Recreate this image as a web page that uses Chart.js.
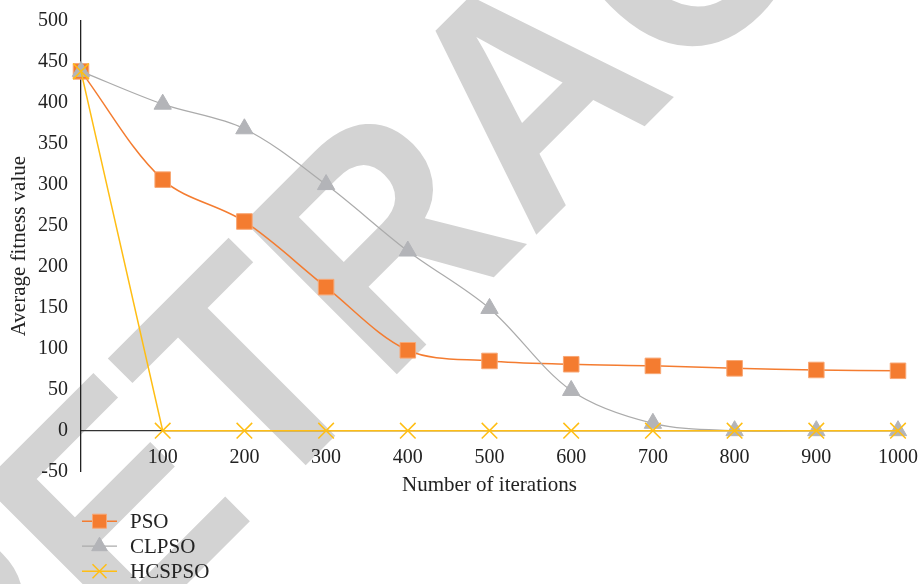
<!DOCTYPE html>
<html>
<head>
<meta charset="utf-8">
<title>Average fitness value vs. number of iterations</title>
<script src="https://cdn.jsdelivr.net/npm/chart.js@4/dist/chart.umd.min.js"></script>
<style>
  html, body { margin: 0; padding: 0; background: #ffffff; }
  #wrap { width: 923px; height: 584px; }
</style>
</head>
<body>
<div id="wrap"><canvas id="chart" width="923" height="584"></canvas></div>
<script>
// Iteration counts on the horizontal axis
const iterations = [0, 100, 200, 300, 400, 500, 600, 700, 800, 900, 1000];

// Average fitness value of each algorithm
const psoValues    = [438, 306, 255, 175, 98, 85, 81, 79, 76, 74, 73];
const clpsoValues  = [438, 398, 368, 300, 219, 149, 49, 9, 0, 0, 0];
const hcspsoValues = [438, 0, 0, 0, 0, 0, 0, 0, 0, 0, 0];

const seriesNames = ['PSO', 'CLPSO', 'HCSPSO'];

// Axis ranges and tick steps
const xRange = [0, 1000];
const xStep = 100;
const yRange = [-50, 500];
const yStep = 50;

const axisTitles = { x: 'Number of iterations', y: 'Average fitness value' };
const stampText = 'RETRACTED';

const serif = '"Liberation Serif", "Times New Roman", serif';
const textColor = '#222222';

function points(values) {
  return iterations.map((x, i) => ({ x: x, y: values[i] }));
}

// Diagonal grey stamp behind the plot
const stampPlugin = {
  id: 'stamp',
  beforeDraw(chart) {
    const ctx = chart.ctx;
    ctx.save();
    ctx.fillStyle = '#ffffff';
    ctx.fillRect(0, 0, chart.width, chart.height);
    ctx.translate(-27, 798);
    ctx.rotate(-Math.PI / 4);
    ctx.scale(1, 1.08);
    ctx.font = 'bold 290px "Liberation Sans", Arial, sans-serif';
    ctx.fillStyle = '#d3d3d3';
    ctx.textBaseline = 'alphabetic';
    ctx.textAlign = 'left';
    ctx.fillText(stampText, 0, 0);
    ctx.restore();
  }
};

// Legend stacked in rows under the plot
const rowLegendPlugin = {
  id: 'rowLegend',
  afterDraw(chart) {
    const ctx = chart.ctx;
    const area = chart.chartArea;
    const left = area.left + 1;
    chart.data.datasets.forEach((ds, i) => {
      const y = area.bottom + 49.5 + i * 25;
      ctx.save();
      ctx.strokeStyle = ds.borderColor;
      ctx.lineWidth = ds.borderWidth;
      ctx.beginPath();
      ctx.moveTo(left, y);
      ctx.lineTo(left + 35, y);
      ctx.stroke();
      ctx.fillStyle = ds.pointBackgroundColor;
      ctx.strokeStyle = ds.pointBorderColor;
      ctx.lineWidth = ds.pointBorderWidth;
      Chart.helpers.drawPoint(ctx, {
        pointStyle: ds.pointStyle,
        radius: ds.pointRadius * 0.9,
        borderWidth: ds.pointBorderWidth,
        rotation: 0
      }, left + 17.5, y);
      ctx.fillStyle = textColor;
      ctx.font = '21px ' + serif;
      ctx.textBaseline = 'middle';
      ctx.textAlign = 'left';
      ctx.fillText(ds.label, left + 48, y + 1);
      ctx.restore();
    });
  }
};

new Chart(document.getElementById('chart'), {
  type: 'line',
  data: {
    datasets: [
      {
        label: seriesNames[0],
        data: points(psoValues),
        borderColor: '#F47C30',
        borderWidth: 1.5,
        tension: 0.33,
        pointStyle: 'rect',
        pointRadius: 11,
        pointBackgroundColor: '#F47C30',
        pointBorderColor: '#F8A774',
        pointBorderWidth: 1,
        clip: false,
        order: 2
      },
      {
        label: seriesNames[1],
        data: points(clpsoValues),
        borderColor: '#ABABAB',
        borderWidth: 1.2,
        tension: 0.33,
        pointStyle: 'triangle',
        pointRadius: 10,
        pointBackgroundColor: '#B3B4B8',
        pointBorderColor: '#B3B4B8',
        pointBorderWidth: 1,
        clip: false,
        order: 1
      },
      {
        label: seriesNames[2],
        data: points(hcspsoValues),
        borderColor: '#FFBE14',
        borderWidth: 1.5,
        tension: 0,
        pointStyle: 'crossRot',
        pointRadius: 11,
        pointBackgroundColor: '#FFBE14',
        pointBorderColor: '#FFBE14',
        pointBorderWidth: 1.5,
        clip: false,
        order: 0
      }
    ]
  },
  options: {
    responsive: false,
    animation: false,
    devicePixelRatio: 1,
    layout: { padding: { left: 0, right: 25, top: 20.5, bottom: 112.3 } },
    plugins: {
      legend: { display: false },
      tooltip: { enabled: false }
    },
    scales: {
      x: {
        type: 'linear',
        min: xRange[0],
        max: xRange[1],
        position: { y: 0 },
        grid: { display: false, drawTicks: true, tickLength: 12 },
        border: { display: true, color: '#333333', width: 1.3 },
        ticks: {
          stepSize: xStep,
          padding: 3,
          autoSkip: false,
          maxRotation: 0,
          color: textColor,
          font: { family: serif, size: 20 },
          callback: (v) => (v === 0 ? '' : String(v))
        },
        title: {
          display: true,
          text: axisTitles.x,
          color: textColor,
          font: { family: serif, size: 21 },
          padding: { top: 0, bottom: 0 }
        }
      },
      y: {
        min: yRange[0],
        max: yRange[1],
        grid: { display: false, drawTicks: true, tickLength: 10 },
        border: { display: true, color: '#222222', width: 1.3 },
        ticks: {
          stepSize: yStep,
          padding: 3,
          color: textColor,
          font: { family: serif, size: 20 }
        },
        title: {
          display: true,
          text: axisTitles.y,
          color: textColor,
          font: { family: serif, size: 21 },
          padding: { top: 7, bottom: 0 }
        },
        afterFit(scale) { scale.width = 81; }
      }
    }
  },
  plugins: [stampPlugin, rowLegendPlugin]
});
</script>
</body>
</html>
